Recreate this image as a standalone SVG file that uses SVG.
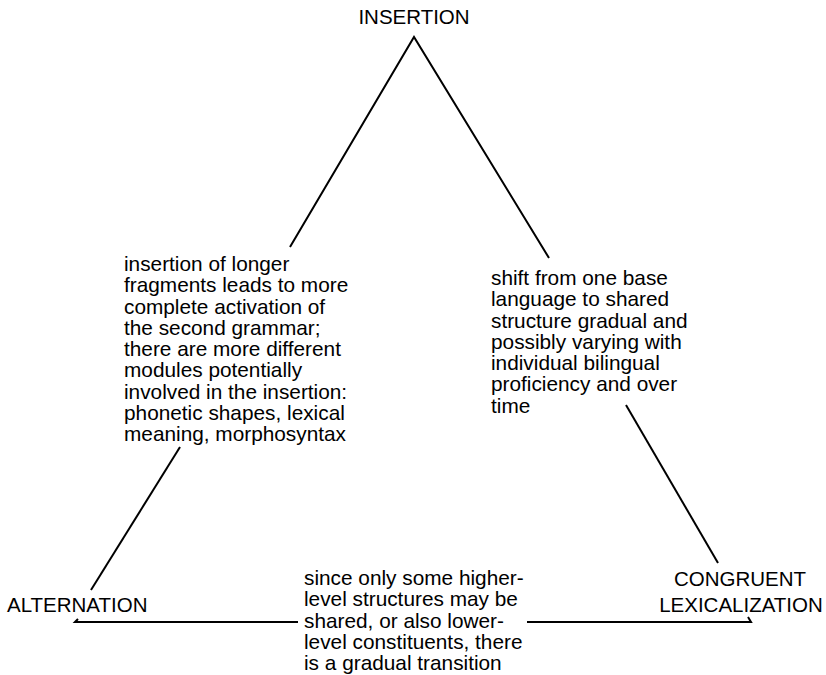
<svg xmlns="http://www.w3.org/2000/svg" width="826" height="675" viewBox="0 0 826 675">
<style>
text{font-family:"Liberation Sans",Arial,sans-serif;font-size:20.5px;fill:#000}
.b text{font-size:20.8px}
.ln{stroke:#000;stroke-width:2;fill:none}
</style>
<rect width="826" height="675" fill="#fff"/>
<g id="connectors">
<polyline class="ln" points="290,247 414,37 549,258"/>
<line class="ln" x1="180" y1="447" x2="91" y2="590"/>
<line class="ln" x1="626" y1="405" x2="718" y2="563"/>
<polyline class="ln" points="78,619 75,622 298,622"/>
<polyline class="ln" points="527,622 751,622 748,617"/>
</g>
<g id="insertion"><text x="414" y="24" text-anchor="middle">INSERTION</text></g>
<g id="alternation"><text x="7" y="612">ALTERNATION</text></g>
<g id="congruent"><text x="740" y="586" text-anchor="middle">CONGRUENT</text><text x="741" y="612" text-anchor="middle">LEXICALIZATION</text></g>
<g id="label-left" class="b">
<text x="124" y="271">insertion of longer</text>
<text x="124" y="292.3">fragments leads to more</text>
<text x="124" y="313.5">complete activation of</text>
<text x="124" y="334.8">the second grammar;</text>
<text x="124" y="356">there are more different</text>
<text x="124" y="377.3">modules potentially</text>
<text x="124" y="398.5">involved in the insertion:</text>
<text x="124" y="419.8">phonetic shapes, lexical</text>
<text x="124" y="441">meaning, morphosyntax</text>
</g>
<g id="label-right" class="b">
<text x="491" y="285">shift from one base</text>
<text x="491" y="306.3">language to shared</text>
<text x="491" y="327.5">structure gradual and</text>
<text x="491" y="348.8">possibly varying with</text>
<text x="491" y="370">individual bilingual</text>
<text x="491" y="391.3">proficiency and over</text>
<text x="491" y="412.5">time</text>
</g>
<g id="label-bottom" class="b">
<text x="304" y="585">since only some higher-</text>
<text x="304" y="606.3">level structures may be</text>
<text x="304" y="627.5">shared, or also lower-</text>
<text x="304" y="648.8">level constituents, there</text>
<text x="304" y="670">is a gradual transition</text>
</g>
</svg>
